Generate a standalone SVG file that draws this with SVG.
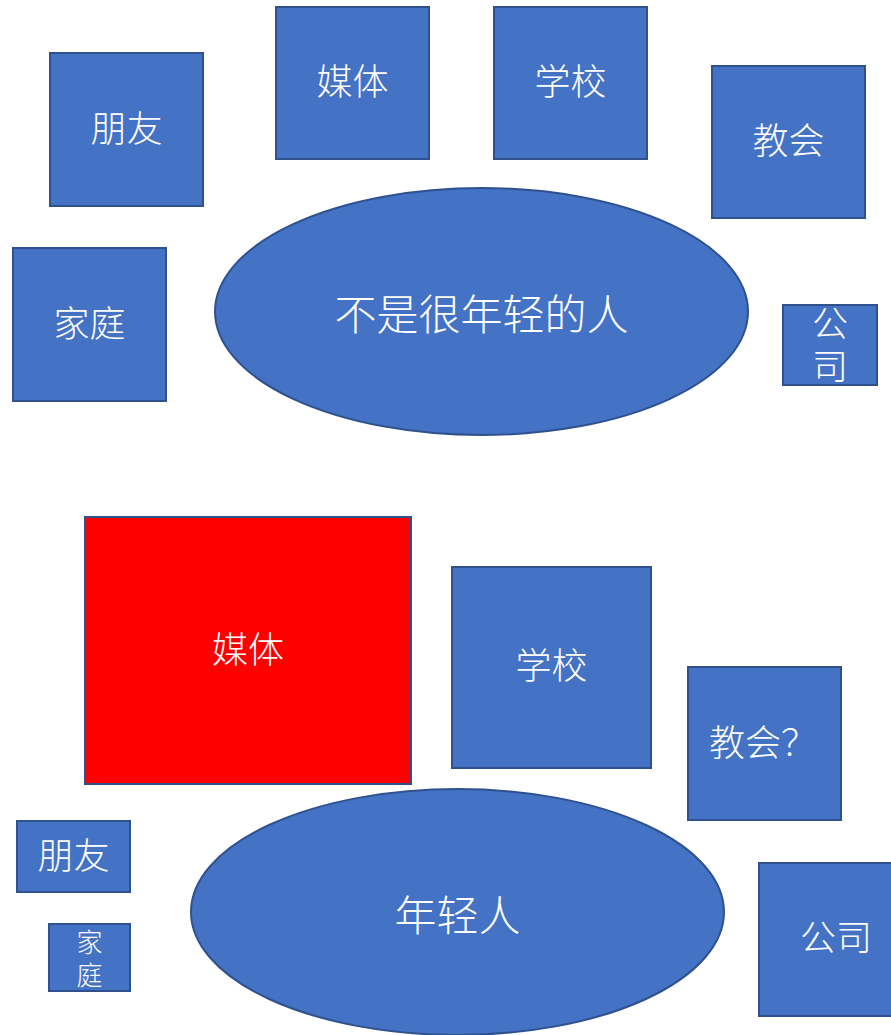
<svg xmlns="http://www.w3.org/2000/svg" width="891" height="1035" viewBox="0 0 891 1035">
<style>
.b{fill:#4472C4;stroke:#2F528F;stroke-width:2}
.r{fill:#FF0000;stroke:#2F528F;stroke-width:2}
text{fill:#FFFFFF;font-family:"Noto Sans CJK SC","Noto Sans CJK JP",sans-serif;font-weight:300;text-anchor:middle;dominant-baseline:central;font-size:36px}
.l{font-size:42px}
.s{font-size:26px}
</style>
<rect width="891" height="1035" fill="#FFFFFF"/>
<g id="connectors"></g>
<g id="friends1"><rect class="b" x="50" y="53" width="153" height="153"/><text x="126.5" y="126">朋友</text></g>
<g id="media1"><rect class="b" x="276" y="7" width="153" height="152"/><text x="352.5" y="79">媒体</text></g>
<g id="school1"><rect class="b" x="494" y="7" width="153" height="152"/><text x="570.5" y="79">学校</text></g>
<g id="church1"><rect class="b" x="712" y="66" width="153" height="152"/><text x="788.5" y="138">教会</text></g>
<g id="family1"><rect class="b" x="13" y="248" width="153" height="153"/><text x="89.5" y="321">家庭</text></g>
<g id="older"><ellipse class="b" cx="481.5" cy="311.5" rx="266.5" ry="123.5"/><text class="l" x="481.5" y="311">不是很年轻的人</text></g>
<g id="company1"><rect class="b" x="783" y="305" width="94" height="80"/><text><tspan x="830" y="321">公</tspan><tspan x="830" y="364">司</tspan></text></g>
<g id="media2"><rect class="r" x="85" y="517" width="326" height="267"/><text x="248" y="647">媒体</text></g>
<g id="school2"><rect class="b" x="452" y="567" width="199" height="201"/><text x="551.5" y="663">学校</text></g>
<g id="church2"><rect class="b" x="688" y="667" width="153" height="153"/><text x="709" y="740" style="text-anchor:start">教会？</text></g>
<g id="friends2"><rect class="b" x="17" y="821" width="113" height="71"/><text x="73.5" y="853">朋友</text></g>
<g id="family2"><rect class="b" x="49" y="924" width="81" height="67"/><text class="s"><tspan x="89.5" y="940">家</tspan><tspan x="89.5" y="973">庭</tspan></text></g>
<g id="young"><ellipse class="b" cx="457.5" cy="912" rx="266.5" ry="123"/><text class="l" x="457.5" y="912">年轻人</text></g>
<g id="company2"><rect class="b" x="759" y="863" width="140" height="153"/><text x="836" y="935">公司</text></g>
</svg>
